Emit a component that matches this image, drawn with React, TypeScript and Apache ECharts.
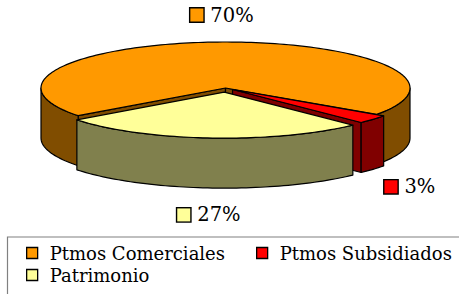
import React, { useEffect, useRef } from "react";
import * as echarts from "echarts";

// ---- data ----
const CATEGORIES = ["Ptmos Comerciales", "Ptmos Subsidiados", "Patrimonio"];
const VALUES = [70, 3, 27];

// ---- styles / layout ----
const TOP_COLORS = ["#FF9900", "#FF0000", "#FFFF99"];
const SIDE_COLORS = ["#804D00", "#800000", "#80804D"];
const EXPLODE = [0, 0.05, 0.09];
const START_ANGLE = 143; // degrees, screen clockwise from +x
const CX = 225.5;
const CY = 88;
const RX = 184.5;
const RY = 46;
const DEPTH = 50;
const FONT = "DejaVu Serif";

const TOTAL = VALUES.reduce((a, b) => a + b, 0);
const D2R = Math.PI / 180;

function sliceRange(i: number, value: number): [number, number] {
  let a = START_ANGLE;
  for (let j = 0; j < i; j++) a += (VALUES[j] / TOTAL) * 360;
  return [a, a + (value / TOTAL) * 360];
}

function renderSlice(params: any, api: any) {
  const i = params.seriesIndex;
  const value = api.value(0);
  const [a0, a1] = sliceRange(i, value);
  const m = (a0 + a1) / 2;
  const cm = Math.cos(m * D2R);
  const sm = Math.sin(m * D2R);
  const e = EXPLODE[i];
  const ox = e * RX * cm;
  const oy = e * RY * sm;

  const pt = (deg: number, dy = 0): number[] => [
    CX + ox + RX * Math.cos(deg * D2R),
    CY + oy + RY * Math.sin(deg * D2R) + dy,
  ];
  const arc = (s: number, t: number, dy = 0): number[][] => {
    const n = Math.max(2, Math.ceil(Math.abs(t - s) / 1.5));
    const out: number[][] = [];
    for (let k = 0; k <= n; k++) out.push(pt(s + ((t - s) * k) / n, dy));
    return out;
  };
  const center = [CX + ox, CY + oy];
  const centerB = [CX + ox, CY + oy + DEPTH];

  // back-to-front drawing order by the mid-angle's depth
  const mids = VALUES.map((v, j) => {
    const r = sliceRange(j, v);
    return Math.sin(((r[0] + r[1]) / 2) * D2R);
  });
  const rank = mids.filter((s) => s < sm).length;
  const base = rank * 10;

  const side = {
    fill: SIDE_COLORS[i],
    stroke: "#000",
    lineWidth: 1.2,
    lineJoin: "round",
  };
  const children: any[] = [];

  // radial walls facing the viewer
  if (Math.cos(a0 * D2R) < 0) {
    children.push({
      type: "polygon",
      z2: base,
      shape: { points: [center, pt(a0), pt(a0, DEPTH), centerB] },
      style: side,
    });
  }
  if (Math.cos(a1 * D2R) > 0) {
    children.push({
      type: "polygon",
      z2: base,
      shape: { points: [center, pt(a1), pt(a1, DEPTH), centerB] },
      style: side,
    });
  }

  // front-facing outer walls
  for (let k = -1; k <= 2; k++) {
    const s = Math.max(a0, k * 360);
    const t = Math.min(a1, k * 360 + 180);
    if (t > s) {
      const top = arc(s, t);
      const bot = arc(t, s, DEPTH);
      children.push({
        type: "polygon",
        z2: base + 1,
        shape: { points: top.concat(bot) },
        style: side,
      });
    }
  }

  // top face
  children.push({
    type: "polygon",
    z2: base + 2,
    shape: { points: [center].concat(arc(a0, a1)) },
    style: {
      fill: TOP_COLORS[i],
      stroke: "#000",
      lineWidth: 1.2,
      lineJoin: "round",
    },
  });

  // percentage label with legend key
  const pct = Math.round((value / TOTAL) * 100);
  const lx = CX + ox + (RX + 15) * cm;
  const ly = CY + oy + (RY + 27) * sm + (sm > 0 ? DEPTH : 0);
  const align = cm > 0.5 ? "left" : cm < -0.5 ? "right" : "center";
  children.push({
    type: "text",
    x: lx,
    y: ly,
    z2: 200,
    style: {
      text: "{k|}{t|" + pct + "%}",
      align,
      verticalAlign: "middle",
      rich: {
        k: {
          width: 13,
          height: 13,
          backgroundColor: TOP_COLORS[i],
          borderColor: "#000",
          borderWidth: 1.4,
        },
        t: {
          fontFamily: FONT,
          fontSize: 19.5,
          fill: "#000",
          padding: [0, 0, 0, 7],
        },
      },
    },
  });

  return { type: "group", children };
}

export default function App() {
  const ref = useRef<HTMLDivElement>(null);

  useEffect(() => {
    document.body.style.margin = "0";
    if (!ref.current) return;
    const chart = echarts.init(ref.current, null, { renderer: "svg" });

    const legendText = {
      fontFamily: FONT,
      fontSize: 18,
      color: "#000",
      lineHeight: 20,
      padding: [0, 0, 0, 7],
    };
    const legendBase = {
      orient: "horizontal",
      icon: "rect",
      itemWidth: 11,
      itemHeight: 11,
      padding: 0,
      selectedMode: false,
      itemStyle: { borderColor: "#000", borderWidth: 1.3 },
      textStyle: legendText,
    };

    chart.setOption({
      animation: false,
      backgroundColor: "#fff",
      legend: [
        { ...legendBase, left: 26, top: 243, data: [CATEGORIES[0]] },
        { ...legendBase, left: 256, top: 243, data: [CATEGORIES[1]] },
        { ...legendBase, left: 26, top: 265, data: [CATEGORIES[2]] },
      ],
      graphic: [
        {
          type: "rect",
          silent: true,
          shape: { x: 7.5, y: 237, width: 600, height: 200 },
          style: { fill: "none", stroke: "#808080", lineWidth: 1.2 },
        },
      ],
      series: CATEGORIES.map((name, i) => ({
        type: "custom",
        name,
        coordinateSystem: "none",
        silent: true,
        itemStyle: { color: TOP_COLORS[i] },
        data: [[VALUES[i]]],
        renderItem: renderSlice,
      })),
    });

    return () => chart.dispose();
  }, []);

  return (
    <div
      ref={ref}
      style={{ position: "absolute", left: 0, top: 0, width: 459, height: 294 }}
    />
  );
}
